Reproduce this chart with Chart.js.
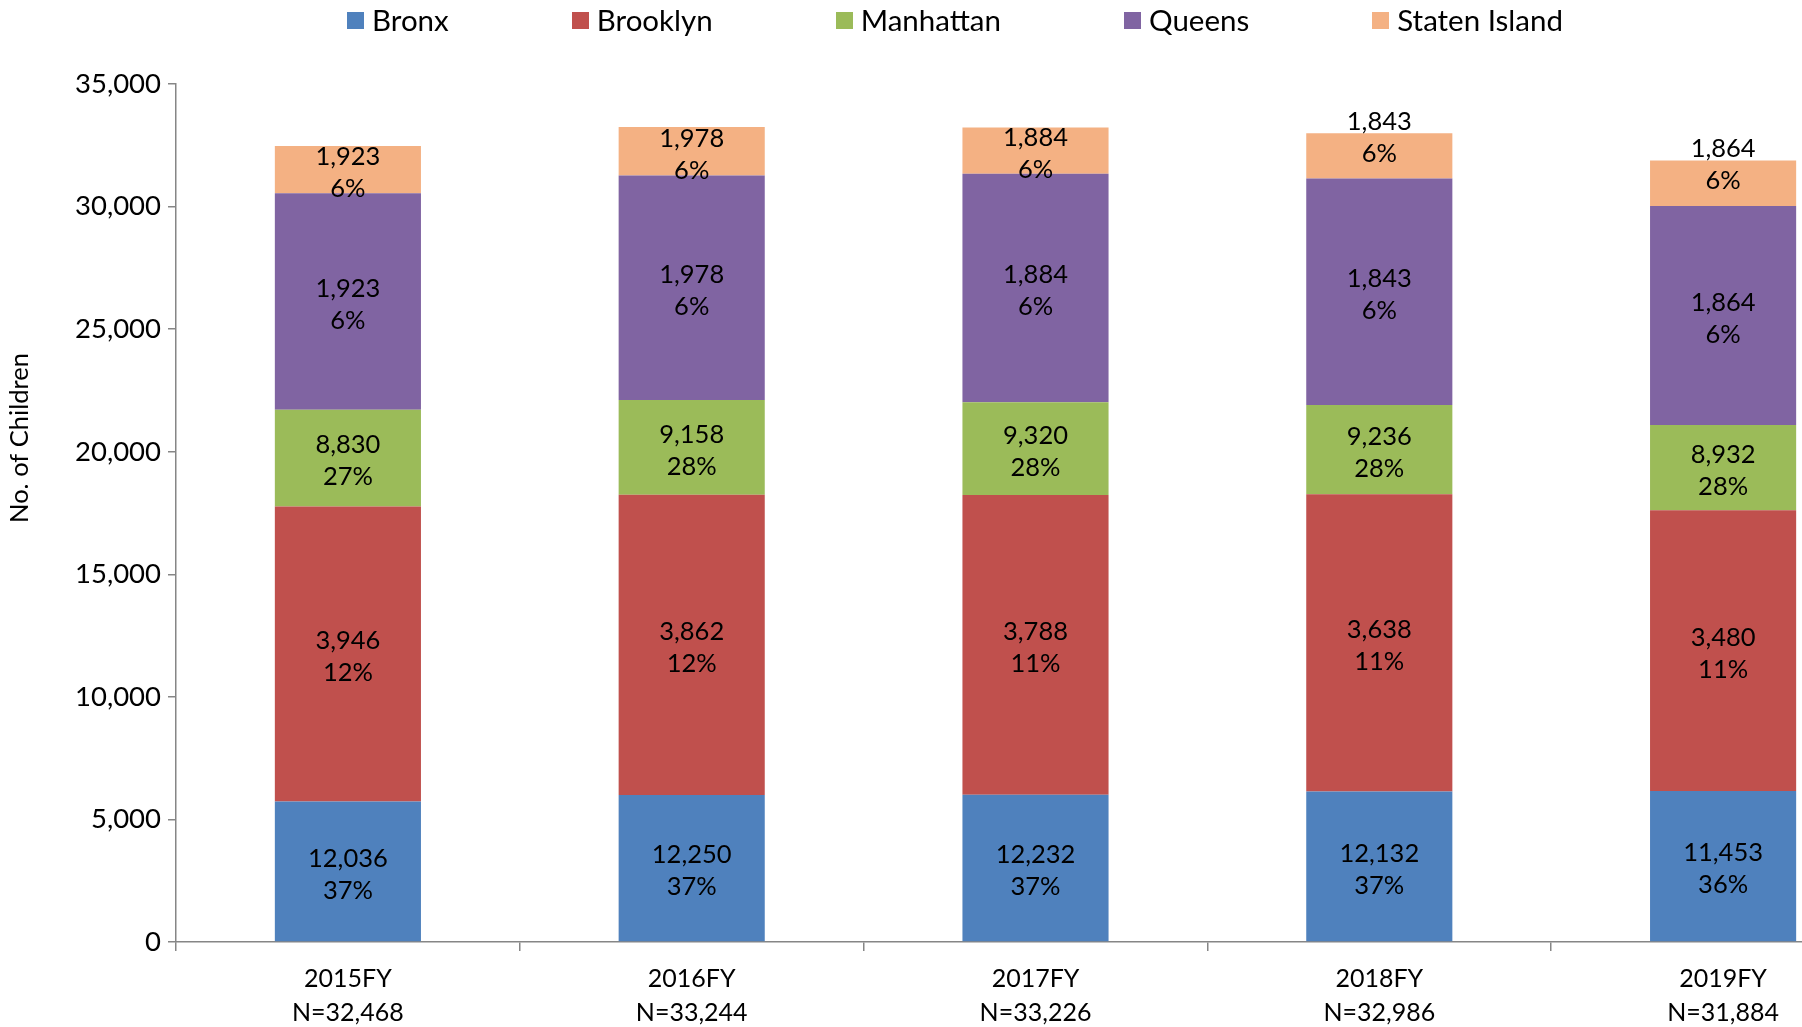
<!DOCTYPE html>
<html><head><meta charset="utf-8">
<script src="https://cdn.jsdelivr.net/npm/chart.js@4.4.1/dist/chart.umd.min.js"></script>
<style>
html,body{margin:0;padding:0;background:#fff;overflow:hidden;width:1802px;height:1027px}
#wrap{position:absolute;left:0;top:0;width:1900px;height:1027px}
#legend{position:absolute;top:4px;left:347px;display:flex;align-items:center;font-family:Lato,sans-serif;font-size:29.5px;color:#000;white-space:nowrap;line-height:32px}
.item{display:flex;align-items:center;margin-right:123px}
.box{width:17px;height:17px;margin-right:8px}
</style>
</head><body>
<div id="wrap"><canvas id="c" width="1900" height="1027"></canvas></div>
<div id="legend"></div>
<script>
const FONT = 'Lato, sans-serif';
const categories = ['2015FY', '2016FY', '2017FY', '2018FY', '2019FY'];
const sampleSizes = ['N=32,468', 'N=33,244', 'N=33,226', 'N=32,986', 'N=31,884'];
const seriesNames = ['Bronx', 'Brooklyn', 'Manhattan', 'Queens', 'Staten Island'];
const seriesColors = ['#4F81BD', '#C0504D', '#9BBB59', '#8064A2', '#F4B183'];

// bar segment heights
const bronx = [5733, 5996, 6002, 6137, 6155];
const brooklyn = [12036, 12250, 12232, 12132, 11453];
const manhattan = [3946, 3862, 3788, 3638, 3480];
const queens = [8830, 9158, 9320, 9236, 8932];
const statenIsland = [1923, 1978, 1884, 1843, 1864];

// label texts printed on each segment (as shown in the picture)
const bronxCountLabels = ['12,036', '12,250', '12,232', '12,132', '11,453'];
const bronxPctLabels = ['37%', '37%', '37%', '37%', '36%'];
const brooklynCountLabels = ['3,946', '3,862', '3,788', '3,638', '3,480'];
const brooklynPctLabels = ['12%', '12%', '11%', '11%', '11%'];
const manhattanCountLabels = ['8,830', '9,158', '9,320', '9,236', '8,932'];
const manhattanPctLabels = ['27%', '28%', '28%', '28%', '28%'];
const queensCountLabels = ['1,923', '1,978', '1,884', '1,843', '1,864'];
const queensPctLabels = ['6%', '6%', '6%', '6%', '6%'];
const statenCountLabels = ['1,923', '1,978', '1,884', '1,843', '1,864'];
const statenPctLabels = ['6%', '6%', '6%', '6%', '6%'];

const yTicks = [0, 5000, 10000, 15000, 20000, 25000, 30000, 35000];
const yTitle = 'No. of Children';

const seriesValues = [bronx, brooklyn, manhattan, queens, statenIsland];
const countLabels = [bronxCountLabels, brooklynCountLabels, manhattanCountLabels, queensCountLabels, statenCountLabels];
const pctLabels = [bronxPctLabels, brooklynPctLabels, manhattanPctLabels, queensPctLabels, statenPctLabels];

// HTML legend
const lg = document.getElementById('legend');
seriesNames.forEach((n, i) => {
  const it = document.createElement('div'); it.className = 'item';
  const b = document.createElement('div'); b.className = 'box'; b.style.background = seriesColors[i];
  const t = document.createElement('span'); t.textContent = n;
  it.appendChild(b); it.appendChild(t); lg.appendChild(it);
});

const labelPlugin = {
  id: 'segLabels',
  afterDatasetsDraw(chart) {
    const ctx = chart.ctx;
    ctx.save();
    ctx.font = '25.5px ' + FONT;
    ctx.fillStyle = '#000';
    ctx.textAlign = 'center';
    ctx.textBaseline = 'middle';
    chart.data.datasets.forEach((ds, di) => {
      const meta = chart.getDatasetMeta(di);
      meta.data.forEach((bar, i) => {
        let cy = (bar.y + bar.base) / 2;
        // top segments of the last two bars have their labels lifted
        if (di === seriesNames.length - 1 && i >= 3) cy -= 21;
        ctx.fillText(countLabels[di][i], bar.x, cy - 13);
        ctx.fillText(pctLabels[di][i], bar.x, cy + 19);
      });
    });
    ctx.restore();
  }
};

const yTitlePlugin = {
  id: 'yTitle',
  afterDraw(chart) {
    const ctx = chart.ctx;
    ctx.save();
    ctx.translate(20, 438);
    ctx.rotate(-Math.PI / 2);
    ctx.font = '25.5px ' + FONT;
    ctx.fillStyle = '#000';
    ctx.textAlign = 'center';
    ctx.textBaseline = 'middle';
    ctx.fillText(yTitle, 0, 0);
    ctx.restore();
  }
};

new Chart(document.getElementById('c'), {
  type: 'bar',
  data: {
    labels: categories.map((c, i) => [c, sampleSizes[i]]),
    datasets: seriesNames.map((n, i) => ({
      label: n,
      data: seriesValues[i],
      backgroundColor: seriesColors[i],
      borderWidth: 0,
      barPercentage: 0.425,
      categoryPercentage: 1.0
    }))
  },
  options: {
    responsive: false,
    animation: false,
    layout: { padding: { top: 84, right: 5, left: 0, bottom: 0 } },
    plugins: { legend: { display: false }, tooltip: { enabled: false } },
    scales: {
      x: {
        stacked: true,
        grid: { display: true, drawOnChartArea: false, offset: true, tickLength: 9, color: '#868686', lineWidth: 1.5 },
        border: { color: '#868686', width: 1.5 },
        ticks: { font: { family: FONT, size: 25, lineHeight: 1.37 }, color: '#000', padding: 11, maxRotation: 0, autoSkip: false },
        afterFit(s) { s.height = 85; }
      },
      y: {
        stacked: true,
        min: 0, max: 35000,
        afterBuildTicks(s) { s.ticks = yTicks.map(v => ({ value: v })); },
        ticks: { font: { family: FONT, size: 27.5 }, color: '#000', padding: 7, callback: v => v.toLocaleString('en-US') },
        grid: { drawOnChartArea: false, tickLength: 8, color: '#868686', lineWidth: 1.5 },
        border: { color: '#868686', width: 1.5 },
        afterFit(s) { s.width = 176; }
      }
    }
  },
  plugins: [labelPlugin, yTitlePlugin]
});
</script>
</body></html>
